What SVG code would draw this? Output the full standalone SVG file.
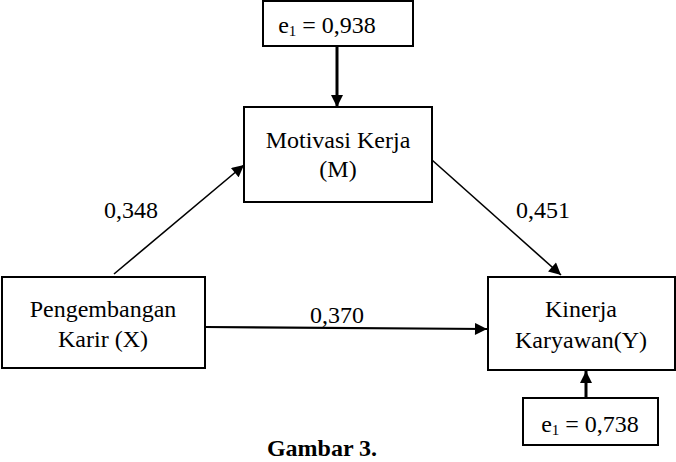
<svg xmlns="http://www.w3.org/2000/svg" width="676" height="462" viewBox="0 0 676 462">
<style>
.box{fill:#fff;stroke:#000;stroke-width:2}
.t{font-family:"Liberation Serif","Times New Roman",serif;font-size:24px;fill:#000;text-anchor:middle}
.c{stroke:#000;fill:none}
.thin{stroke-width:1.6}
.thick{stroke-width:3}
</style>
<defs>
<marker id="ah2" viewBox="0 0 10 10" refX="10" refY="5" markerWidth="14" markerHeight="12" markerUnits="userSpaceOnUse" orient="auto"><path d="M0,0 L10,5 L0,10 Z" fill="#000"/></marker>
</defs>
<g id="connectors">
<line class="c thick" x1="337" y1="46" x2="337" y2="107" marker-end="url(#ah2)"/>
<line class="c thin" x1="114" y1="274" x2="244" y2="165" marker-end="url(#ah2)"/>
<line class="c thin" x1="432" y1="160" x2="561" y2="275" marker-end="url(#ah2)"/>
<line class="c" style="stroke-width:2.2" x1="205" y1="327" x2="487" y2="329" marker-end="url(#ah2)"/>
<line class="c thick" x1="586" y1="398" x2="586" y2="371" marker-end="url(#ah2)"/>
<text class="t" x="131" y="218">0,348</text>
<text class="t" x="543" y="218">0,451</text>
<text class="t" x="337" y="323">0,370</text>
</g>
<g id="e1top">
<rect class="box" x="263" y="1" width="150" height="45"/>
<text class="t" x="327" y="33">e<tspan font-size="15" dy="3">1</tspan><tspan dy="-3"> = 0,938</tspan></text>
</g>
<g id="motivasi">
<rect class="box" x="244" y="107" width="188" height="95"/>
<text class="t" x="338" y="148">Motivasi Kerja</text>
<text class="t" x="338" y="177">(M)</text>
</g>
<g id="pengembangan">
<rect class="box" x="2" y="277" width="203" height="91"/>
<text class="t" x="103" y="317">Pengembangan</text>
<text class="t" x="103" y="347">Karir (X)</text>
</g>
<g id="kinerja">
<rect class="box" x="488" y="277" width="187" height="93"/>
<text class="t" x="581" y="317">Kinerja</text>
<text class="t" x="581" y="348">Karyawan(Y)</text>
</g>
<g id="e1bottom">
<rect class="box" x="523" y="398" width="135" height="47"/>
<text class="t" x="590" y="432">e<tspan font-size="15" dy="3">1</tspan><tspan dy="-3"> = 0,738</tspan></text>
</g>
<text class="t" x="322" y="456" font-weight="bold">Gambar 3.</text>
</svg>
